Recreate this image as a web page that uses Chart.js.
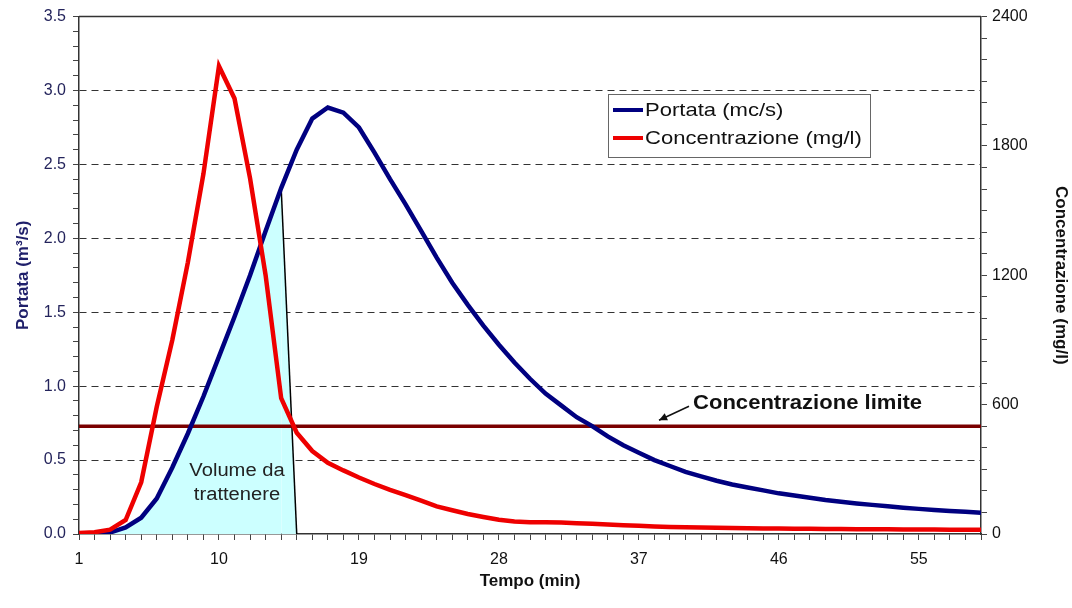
<!DOCTYPE html>
<html>
<head>
<meta charset="utf-8">
<script src="https://cdn.jsdelivr.net/npm/chart.js@4.4.0/dist/chart.umd.min.js"></script>
<style>
  html, body { margin: 0; padding: 0; background: #fff; }
  #wrap { width: 1072px; height: 608px; }
</style>
</head>
<body>
<div id="wrap"><canvas id="chart" width="1072" height="608"></canvas></div>
<script>
// tempo (min)
const minutes = ['1','2','3','4','5','6','7','8','9','10','11','12','13','14','15','16','17','18','19','20',
  '21','22','23','24','25','26','27','28','29','30','31','32','33','34','35','36','37','38','39','40',
  '41','42','43','44','45','46','47','48','49','50','51','52','53','54','55','56','57','58','59'];
const xTickLabels = ['1','10','19','28','37','46','55'];

// portata (m3/s), asse sinistro
const portata = [0, 0, 0.01, 0.045, 0.11, 0.24, 0.45, 0.68, 0.93, 1.2,
  1.47, 1.75, 2.05, 2.34, 2.6, 2.81, 2.885, 2.85, 2.75, 2.58,
  2.4, 2.23, 2.05, 1.87, 1.7, 1.55, 1.41, 1.28, 1.16, 1.05,
  0.95, 0.87, 0.79, 0.73, 0.66, 0.6, 0.55, 0.5, 0.46, 0.42,
  0.39, 0.36, 0.335, 0.315, 0.295, 0.275, 0.26, 0.245, 0.23, 0.218,
  0.207, 0.197, 0.187, 0.178, 0.17, 0.163, 0.156, 0.15, 0.144];

// concentrazione (mg/l), asse destro
const concentrazione = [5, 8, 20, 65, 240, 590, 900, 1260, 1670, 2170,
  2020, 1650, 1200, 630, 470, 385, 330, 295, 262, 232,
  205, 180, 155, 128, 110, 93, 79, 66, 58, 55,
  55, 53, 50, 47, 44, 41, 38, 35, 33, 31,
  30, 29, 28, 27, 26, 25, 24, 24, 23, 23,
  22, 22, 22, 21, 21, 21, 20, 20, 20];

const limite = 500; // concentrazione limite (mg/l)

// volume da trattenere: sotto la portata fino a 14 min, chiuso a 15 min
const volume = portata.slice(0, 14).concat([0]);

const leftMajor = [0, 0.5, 1, 1.5, 2, 2.5, 3, 3.5];
const rightMajor = [0, 600, 1200, 1800, 2400];

const FONT = 'Liberation Sans, Arial, sans-serif';
const isIn = (arr, v) => arr.some(m => Math.abs(m - v) < 1e-6);

// testo leggermente allargato come nell'originale
function wideText(ctx, text, x, y, font, sx, align) {
  ctx.save();
  ctx.font = font;
  ctx.textAlign = align || 'left';
  ctx.textBaseline = 'middle';
  ctx.translate(x, y);
  ctx.scale(sx, 1);
  ctx.fillText(text, 0, 0);
  ctx.restore();
}

const overlay = {
  id: 'overlay',
  beforeDatasetsDraw(chart) {
    const { ctx, chartArea: a } = chart;
    ctx.save();
    ctx.strokeStyle = '#333';
    ctx.lineWidth = 1.5;
    ctx.beginPath();
    ctx.moveTo(a.left, a.top);
    ctx.lineTo(a.right, a.top);
    ctx.stroke();
    ctx.restore();
  },
  afterDraw(chart) {
    const { ctx, chartArea: a } = chart;
    const yR = chart.scales.yR;
    ctx.save();

    // legenda
    const lx = a.left + 529, ly = 94;
    ctx.fillStyle = '#fff';
    ctx.fillRect(lx, ly, 262, 63);
    ctx.strokeStyle = '#666';
    ctx.lineWidth = 1;
    ctx.strokeRect(lx + 0.5, ly + 0.5, 262, 63);
    [['Portata (mc/s)', '#000080', 16], ['Concentrazione (mg/l)', '#ee0000', 44]].forEach(([t, c, dy]) => {
      ctx.strokeStyle = c;
      ctx.lineWidth = 4;
      ctx.beginPath();
      ctx.moveTo(lx + 5, ly + dy);
      ctx.lineTo(lx + 35, ly + dy);
      ctx.stroke();
      ctx.fillStyle = '#111';
      wideText(ctx, t, lx + 37, ly + dy + 1, '19px ' + FONT, 1.16);
    });

    // concentrazione limite
    const yl = yR.getPixelForValue(limite);
    ctx.fillStyle = '#111';
    wideText(ctx, 'Concentrazione limite', 693, yl - 23, 'bold 21px ' + FONT, 1.05);
    ctx.strokeStyle = '#111';
    ctx.lineWidth = 1.5;
    const x1 = 689, y1 = yl - 20, x2 = 659, y2 = yl - 6;
    ctx.beginPath();
    ctx.moveTo(x1, y1);
    ctx.lineTo(x2, y2);
    ctx.stroke();
    const ang = Math.atan2(y2 - y1, x2 - x1);
    ctx.beginPath();
    ctx.moveTo(x2, y2);
    ctx.lineTo(x2 - 9 * Math.cos(ang - 0.45), y2 - 9 * Math.sin(ang - 0.45));
    ctx.lineTo(x2 - 9 * Math.cos(ang + 0.45), y2 - 9 * Math.sin(ang + 0.45));
    ctx.closePath();
    ctx.fill();

    // volume da trattenere
    ctx.fillStyle = '#222';
    wideText(ctx, 'Volume da', 237, 471, '18px ' + FONT, 1.12, 'center');
    wideText(ctx, 'trattenere', 237, 495, '18px ' + FONT, 1.12, 'center');
    ctx.restore();
  }
};

new Chart(document.getElementById('chart'), {
  type: 'line',
  data: {
    labels: minutes,
    datasets: [
      {
        label: 'Concentrazione (mg/l)',
        data: concentrazione,
        yAxisID: 'yR',
        borderColor: '#ee0000',
        borderWidth: 4.5,
        pointRadius: 0,
        tension: 0,
        fill: false,
        order: 1
      },
      {
        label: 'Portata (mc/s)',
        data: portata,
        yAxisID: 'y',
        borderColor: '#000080',
        borderWidth: 4.5,
        pointRadius: 0,
        tension: 0,
        fill: false,
        order: 2
      },
      {
        label: 'Concentrazione limite',
        data: [{ x: minutes[0], y: limite }, { x: minutes[minutes.length - 1], y: limite }],
        yAxisID: 'yR',
        borderColor: '#7a0000',
        borderWidth: 3.5,
        pointRadius: 0,
        fill: false,
        order: 3
      },
      {
        label: 'Volume da trattenere',
        data: volume,
        yAxisID: 'y',
        borderWidth: 1.5,
        borderColor: 'rgba(0,0,0,0)',
        segment: {
          borderColor: c => c.p1DataIndex === volume.length - 1 ? '#000' : 'rgba(0,0,0,0)'
        },
        backgroundColor: '#ccffff',
        fill: 'origin',
        pointRadius: 0,
        tension: 0,
        order: 4
      }
    ]
  },
  options: {
    responsive: false,
    animation: false,
    devicePixelRatio: 1,
    layout: { padding: { top: 16, left: 0, right: 0, bottom: 0 } },
    plugins: {
      legend: { display: false },
      tooltip: { enabled: false }
    },
    scales: {
      x: {
        type: 'category',
        offset: false,
        grid: { drawOnChartArea: false, drawTicks: true, tickLength: 6, tickColor: '#444' },
        border: { display: true, color: '#333', width: 1.5 },
        ticks: {
          autoSkip: false, maxRotation: 0, minRotation: 0, padding: 10,
          color: '#111', font: { family: FONT, size: 16 },
          callback: (v, i) => xTickLabels.includes(minutes[i]) ? minutes[i] : ''
        },
        title: {
          display: true, text: 'Tempo (min)', color: '#111',
          font: { family: FONT, size: 17, weight: 'bold' }, padding: { top: 0, bottom: 16 }
        },
        afterFit: s => { s.height = 74; }
      },
      y: {
        position: 'left',
        min: 0, max: 3.5,
        grid: {
          color: c => (c.tick && c.tick.value > 0.01 && c.tick.value < 3.49 && isIn(leftMajor, c.tick.value)) ? '#333' : 'rgba(0,0,0,0)',
          tickColor: '#444', tickLength: 6, lineWidth: 1, tickBorderDash: []
        },
        border: { display: true, color: '#333', width: 1.5, dash: [7, 5] },
        ticks: {
          stepSize: 0.1, autoSkip: false, padding: 7,
          color: '#24245c', font: { family: FONT, size: 16 },
          callback: v => isIn(leftMajor, v) ? v.toFixed(1) : ''
        },
        title: {
          display: true, text: 'Portata (m³/s)', color: '#1f1f6a',
          font: { family: FONT, size: 17, weight: 'bold' }, padding: { top: 13, bottom: 0 }
        },
        afterFit: s => { s.width = 79; }
      },
      yR: {
        position: 'right',
        min: 0, max: 2400,
        grid: { drawOnChartArea: false, tickColor: '#444', tickLength: 6 },
        border: { display: true, color: '#333', width: 1.5 },
        ticks: {
          stepSize: 100, autoSkip: false, padding: 5,
          color: '#111', font: { family: FONT, size: 16 },
          callback: v => isIn(rightMajor, v) ? String(v) : ''
        },
        title: {
          display: true, text: 'Concentrazione (mg/l)', color: '#111',
          font: { family: FONT, size: 17, weight: 'bold' }, padding: { top: 1, bottom: 0 }
        },
        afterFit: s => { s.width = 91; }
      }
    }
  },
  plugins: [overlay]
});
</script>
</body>
</html>
